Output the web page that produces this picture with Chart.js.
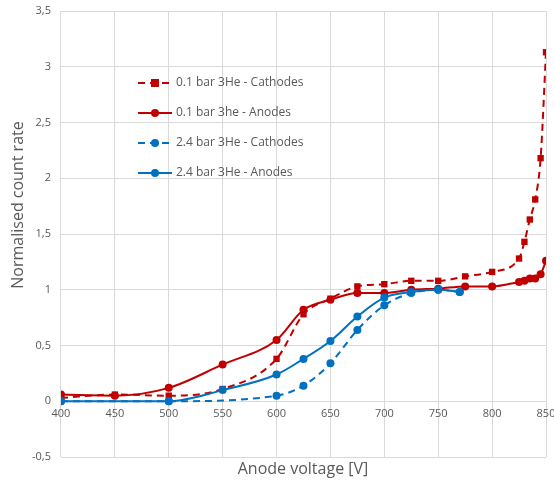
<!DOCTYPE html>
<html>
<head>
<meta charset="utf-8">
<script src="https://cdn.jsdelivr.net/npm/chart.js@4"></script>
<style>
  html, body { margin: 0; padding: 0; background: #fff; }
  #wrap { width: 554px; height: 481px; }
</style>
</head>
<body>
<div id="wrap"><canvas id="chart" width="554" height="481"></canvas></div>
<script>
// values
const voltsRed = [400, 450, 500, 550, 600, 625, 650, 675, 700, 725, 750, 775, 800, 825, 830, 835, 840, 845, 850];
const redCathodes = [0.03, 0.06, 0.05, 0.11, 0.38, 0.78, 0.92, 1.03, 1.05, 1.08, 1.08, 1.12, 1.16, 1.28, 1.43, 1.63, 1.81, 2.18, 3.13];
const redAnodes = [0.06, 0.05, 0.12, 0.33, 0.55, 0.82, 0.91, 0.97, 0.97, 1.00, 1.01, 1.03, 1.03, 1.07, 1.08, 1.10, 1.10, 1.14, 1.26];

const voltsBlueCath = [400, 500, 600, 625, 650, 675, 700, 725, 750, 770];
const blueCathodes = [0.00, 0.00, 0.05, 0.14, 0.34, 0.64, 0.86, 0.97, 1.00, 0.98];
const voltsBlueAn = [400, 500, 550, 600, 625, 650, 675, 700, 725, 750, 770];
const blueAnodes = [0.00, 0.00, 0.10, 0.24, 0.38, 0.54, 0.76, 0.93, 0.98, 1.00, 0.98];

const seriesNames = ['0.1 bar 3He - Cathodes', '0.1 bar 3he - Anodes', '2.4 bar 3He - Cathodes', '2.4 bar 3He - Anodes'];
const xAxisTitle = 'Anode voltage [V]';
const yAxisTitle = 'Normalised count rate';

const RED = '#C00000';
const BLUE = '#0070C0';
const FONT = '"Open Sans", sans-serif';
const GREY = '#595959';

function pts(xs, ys) {
    return xs.map((x, i) => ({ x: x, y: ys[i] }));
}

function series(label, xs, ys, color, dashed, shape) {
    return {
        label: label,
        data: pts(xs, ys),
        borderColor: color,
        backgroundColor: color,
        borderWidth: 2,
        borderDash: dashed ? [7, 5] : [],
        pointStyle: shape,
        pointRadius: shape === 'rect' ? 4.5 : 4,
        pointBorderWidth: 0,
        cubicInterpolationMode: 'monotone',
        fill: false
    };
}

const datasets = [
    series(seriesNames[3], voltsBlueAn, blueAnodes, BLUE, false, 'circle'),
    series(seriesNames[2], voltsBlueCath, blueCathodes, BLUE, true, 'circle'),
    series(seriesNames[1], voltsRed, redAnodes, RED, false, 'circle'),
    series(seriesNames[0], voltsRed, redCathodes, RED, true, 'rect')
];

// legend + axis titles drawn by hand
const extras = {
    id: 'extras',
    afterDraw(chart) {
        const ctx = chart.ctx;
        ctx.save();
        const rows = [
            { ds: datasets[3], y: 83 },
            { ds: datasets[2], y: 113 },
            { ds: datasets[1], y: 143 },
            { ds: datasets[0], y: 173 }
        ];
        rows.forEach(r => {
            ctx.strokeStyle = r.ds.borderColor;
            ctx.fillStyle = r.ds.borderColor;
            ctx.lineWidth = 2;
            ctx.setLineDash(r.ds.borderDash);
            ctx.beginPath();
            ctx.moveTo(138, r.y);
            ctx.lineTo(172, r.y);
            ctx.stroke();
            ctx.setLineDash([]);
            if (r.ds.pointStyle === 'rect') {
                ctx.fillRect(151, r.y - 4, 8, 8);
            } else {
                ctx.beginPath();
                ctx.arc(155, r.y, 4, 0, Math.PI * 2);
                ctx.fill();
            }
            ctx.fillStyle = GREY;
            ctx.font = '12px ' + FONT;
            ctx.textBaseline = 'middle';
            ctx.textAlign = 'left';
            ctx.fillText(r.ds.label, 176, r.y);
        });

        ctx.fillStyle = GREY;
        ctx.font = '16px ' + FONT;
        ctx.textAlign = 'center';
        ctx.textBaseline = 'middle';
        ctx.fillText(xAxisTitle, 303, 469);
        ctx.translate(18, 205);
        ctx.rotate(-Math.PI / 2);
        ctx.fillText(yAxisTitle, 0, 0);
        ctx.restore();
    }
};

new Chart(document.getElementById('chart'), {
    type: 'line',
    data: { datasets: datasets },
    options: {
        responsive: false,
        animation: false,
        layout: { padding: { left: 22, right: 8, top: 11, bottom: 24 } },
        plugins: {
            legend: { display: false },
            tooltip: { enabled: false }
        },
        scales: {
            x: {
                type: 'linear',
                min: 400,
                max: 850,
                position: { y: 0 },
                grid: { color: '#d9d9d9', drawTicks: false },
                border: { display: false },
                ticks: {
                    stepSize: 50,
                    color: GREY,
                    font: { family: FONT, size: 11 },
                    padding: 6
                },
                afterFit(scale) {
                    // let the 850 label run past the edge like the original
                    scale.paddingLeft = 0;
                    scale.paddingRight = 0;
                }
            },
            y: {
                min: -0.5,
                max: 3.5,
                grid: { color: '#d9d9d9', drawTicks: false },
                border: { display: false },
                ticks: {
                    stepSize: 0.5,
                    color: GREY,
                    font: { family: FONT, size: 11 },
                    padding: 10,
                    callback: v => String(v).replace('.', ',')
                },
                afterFit(scale) {
                    scale.paddingTop = 0;
                    scale.paddingBottom = 0;
                }
            }
        }
    },
    plugins: [extras]
});
</script>
</body>
</html>
